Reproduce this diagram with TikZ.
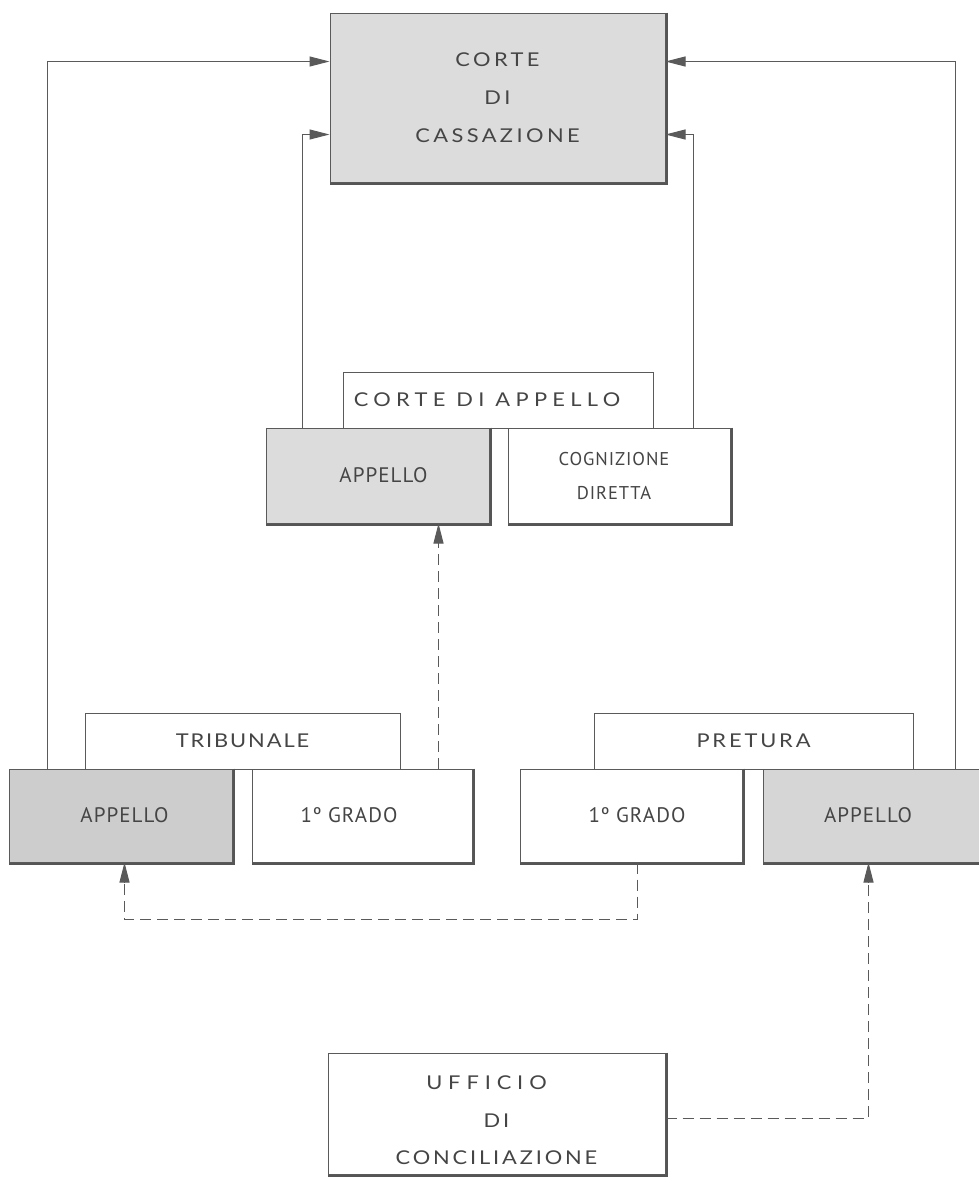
\documentclass[tikz,border=0pt]{standalone}
\usepackage{fontspec}
\usetikzlibrary{arrows.meta,calc}
\newfontfamily\geoA[LetterSpace=18,FakeStretch=1.15]{Lato}
\newfontfamily\geoB[LetterSpace=28,FakeStretch=1.15]{Lato}
\newfontfamily\geoC[LetterSpace=10,FakeStretch=1.15]{Lato}
\newfontfamily\geoD[LetterSpace=31,FakeStretch=1.15]{Lato}
\newfontfamily\geoE[LetterSpace=15,FakeStretch=1.15]{Lato}
\newfontfamily\condfont[LetterSpace=5]{PT Sans}
\definecolor{inkline}{HTML}{5A5A5A}
\definecolor{inktext}{HTML}{454545}
\definecolor{shadowc}{HTML}{555555}
\definecolor{fillA}{HTML}{DCDCDC}
\definecolor{fillB}{HTML}{CDCDCD}
\definecolor{fillC}{HTML}{D6D6D6}
\tikzset{
  box/.style={draw=inkline, line width=1pt, rectangle, inner sep=0pt, align=center, text=inktext},
  geo/.style={font={\geoA\fontsize{19}{38}\selectfont}},
  cond/.style={font={\condfont\fontsize{21}{34}\selectfont}},
  condsmall/.style={font={\condfont\fontsize{18.5}{34}\selectfont}},
  txt/.style={inner sep=0pt, align=center, text=inktext},
  link/.style={draw=inkline, line width=1pt},
  arr/.style={link, -{Triangle[length=20pt,width=10pt,fill=inkline]}},
  darr/.style={link, dash pattern=on 11pt off 6pt},
}
\newcommand{\shadowbox}[1]{%
  \draw[shadowc, line width=2.2pt] ([xshift=1.1pt]#1.north east) -- ([xshift=1.1pt,yshift=-1.1pt]#1.south east) -- ([yshift=-1.1pt]#1.south west);}
\begin{document}
\begin{tikzpicture}[x=1pt,y=-1pt]
\useasboundingbox (0,0) rectangle (979,1184);
\fill[white] (0,0) rectangle (979,1184);

% top
\node[box, geo, fill=fillA, minimum width=335, minimum height=169] (cass) at (497.5,97.5) {CORTE\\DI\\CASSAZIONE};
\shadowbox{cass}

% middle
\node[box, font={\geoB\fontsize{19}{38}\selectfont}, minimum width=310, minimum height=56] (ca) at (498,400) {CORTE DI APPELLO\hspace*{22pt}};
\node[box, cond, fill=fillA, minimum width=223, minimum height=95] (appC) at (377.5,475.5) {\hspace*{12pt}APPELLO};
\node[box, condsmall, minimum width=222, minimum height=95] (cogn) at (619,475.5) {COGNIZIONE\hspace*{10pt}\\DIRETTA\hspace*{10pt}};
\shadowbox{appC}
\shadowbox{cogn}

% bottom left
\node[box, font={\geoC\fontsize{19}{38}\selectfont}, minimum width=315, minimum height=56] (trib) at (242.5,741) {TRIBUNALE};
\node[box, cond, fill=fillB, minimum width=223, minimum height=93] (appT) at (120.5,815.5) {\hspace*{8pt}APPELLO};
\node[box, cond, minimum width=220, minimum height=93] (gT) at (362,815.5) {1º GRADO\hspace*{26pt}};
\shadowbox{appT}
\shadowbox{gT}

% bottom right
\node[box, font={\geoE\fontsize{19}{38}\selectfont}, minimum width=319, minimum height=56] (pret) at (753.5,741) {PRETURA};
\node[box, cond, minimum width=222, minimum height=93] (gP) at (631,815.5) {\hspace*{12pt}1º GRADO};
\node[box, cond, fill=fillC, minimum width=220, minimum height=93] (appP) at (873,815.5) {APPELLO\hspace*{10pt}};
\shadowbox{gP}
\shadowbox{appP}

% conciliazione
\node[box, minimum width=337, minimum height=121] (uff) at (496.5,1113.5) {};
\shadowbox{uff}
\node[txt, font={\geoE\fontsize{19}{37.5}\selectfont}] (ufftext) at ([yshift=-7pt]uff.center) {{\geoD UFFICIO}\hspace*{20pt}\\DI\\CONCILIAZIONE};

% solid connectors to Cassazione
\draw[arr] ([xshift=39pt]appT.north west) |- ([yshift=-49pt]cass.north west);
\draw[arr] ([xshift=37pt]appC.north west) |- ([yshift=-122pt]cass.north west);
\draw[arr] ([xshift=-37pt]cogn.north east) |- ([yshift=-122pt]cass.north east);
\draw[arr] ([xshift=-28pt]appP.north east) |- ([yshift=-49pt]cass.north east);

% dashed connectors
\draw[darr] ([xshift=-34pt]gT.north east) -- ([xshift=-34pt,yshift=-20pt]gT.north east |- appC.south);
\draw[arr] ([xshift=-34pt,yshift=-20pt]gT.north east |- appC.south) -- ([xshift=-34pt]gT.north east |- appC.south);
\coordinate (dl) at ([xshift=116pt]appT.south west);
\draw[darr] ([xshift=118pt]gP.south west) -- ++(0,57) -| ([yshift=-20pt]dl);
\draw[arr] ([yshift=-20pt]dl) -- (dl);
\coordinate (dr) at ([xshift=106pt]appP.south west);
\draw[darr] ([yshift=-4.5pt]uff.east) -| ([yshift=-20pt]dr);
\draw[arr] ([yshift=-20pt]dr) -- (dr);
\end{tikzpicture}
\end{document}
